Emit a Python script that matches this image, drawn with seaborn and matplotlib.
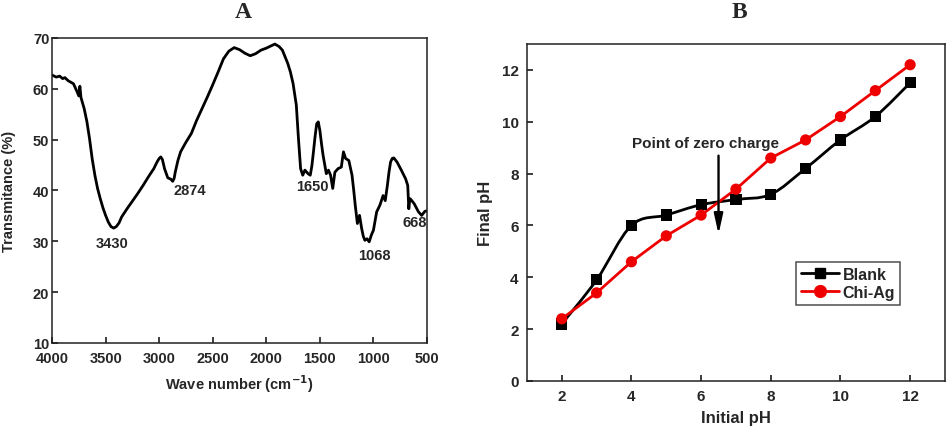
import numpy as np
import pandas as pd
import matplotlib
matplotlib.use("Agg")
import matplotlib.pyplot as plt
import seaborn as sns
from matplotlib.path import Path
from matplotlib.patches import PathPatch
from matplotlib.lines import Line2D

# FTIR spectrum (panel A)
wavenumber = [4000, 3960, 3930, 3900, 3880, 3850, 3800, 3770, 3750, 3740, 3730,
              3700, 3675, 3650, 3625, 3600, 3575, 3550, 3525, 3500, 3475, 3450,
              3425, 3400, 3375, 3350, 3300, 3250, 3200, 3150, 3100, 3050,
              3020, 3000, 2985, 2970, 2950, 2920, 2890, 2874, 2860, 2850, 2825,
              2800, 2750, 2700, 2650, 2600, 2550, 2500, 2450, 2400, 2350, 2300,
              2250, 2200, 2150, 2100, 2050, 2000, 1960, 1920, 1880, 1850, 1800,
              1775, 1750, 1720, 1700, 1680, 1660, 1640, 1610, 1590, 1575, 1560,
              1545, 1530, 1515, 1500, 1485, 1470, 1440, 1420, 1400, 1380, 1360,
              1330, 1300, 1280, 1260, 1230, 1200, 1185, 1170, 1150, 1130, 1110,
              1095, 1080, 1060, 1040, 1020, 1000, 970, 940, 910, 890, 870, 855,
              840, 825, 810, 780, 740, 700, 680, 670, 660, 650, 620, 580, 550,
              520, 500]
transmittance = [62.7, 62.3, 62.5, 62.0, 62.2, 61.6, 61.0, 59.6, 58.6, 60.5, 58.3,
                 56.1, 53.6, 50.2, 46.2, 43.0, 40.4, 38.4, 36.6, 35.1, 33.8, 32.9,
                 32.6, 32.9, 33.6, 34.8, 36.4, 37.9, 39.4, 41.0, 42.7, 44.3,
                 45.6, 46.3, 46.6, 46.1, 44.3, 42.5, 42.2, 41.8, 42.4, 43.6, 45.9,
                 47.6, 49.5, 51.2, 53.8, 56.1, 58.4, 60.8, 63.3, 65.9, 67.4, 68.1,
                 67.7, 67.0, 66.5, 66.9, 67.6, 68.0, 68.4, 68.8, 68.3, 67.6, 65.0,
                 63.3, 61.0, 56.8, 50.2, 44.3, 43.0, 44.0, 43.3, 43.0, 44.8, 47.6,
                 50.6, 53.1, 53.5, 51.8, 49.2, 46.9, 43.3, 44.0, 43.0, 40.4, 43.6,
                 44.3, 44.6, 47.6, 46.3, 45.9, 43.0, 40.2, 37.1, 33.5, 35.1, 32.5,
                 31.0, 30.2, 30.5, 29.9, 31.2, 32.2, 35.8, 37.1, 39.0, 38.0, 41.0,
                 43.6, 45.6, 46.3, 46.4, 45.6, 44.0, 42.3, 41.0, 36.4, 38.4,
                 38.2, 37.4, 35.8, 35.1, 35.9, 36.0]
peak_labels = ["3430", "2874", "1650", "1068", "668"]
peak_x = [3440, 2711, 1571, 988, 615]
peak_y = [29.7, 40.0, 40.9, 27.4, 33.8]

# pH drift (panel B)
initial_ph = [2, 3, 4, 5, 6, 7, 8, 9, 10, 11, 12]
blank_ph = [2.2, 3.9, 6.0, 6.4, 6.8, 7.0, 7.2, 8.2, 9.3, 10.2, 11.5]
chiag_ph = [2.4, 3.4, 4.6, 5.6, 6.4, 7.4, 8.6, 9.3, 10.2, 11.2, 12.2]


def smooth_path(x, y):
    # Catmull-Rom through the points, drawn as cubic Bezier segments
    p = np.column_stack([x, y]).astype(float)
    p = np.vstack([p[0], p, p[-1]])
    verts = [p[1]]
    codes = [Path.MOVETO]
    for i in range(1, len(p) - 2):
        c1 = p[i] + (p[i + 1] - p[i - 1]) / 6
        c2 = p[i + 1] - (p[i + 2] - p[i]) / 6
        verts += [c1, c2, p[i + 1]]
        codes += [Path.CURVE4] * 3
    return Path(verts, codes)


sns.set_theme(style="ticks")
plt.rcParams["font.family"] = ["Liberation Sans", "DejaVu Sans"]
plt.rcParams["font.weight"] = "bold"
plt.rcParams["axes.labelweight"] = "bold"
plt.rcParams["xtick.direction"] = "in"
plt.rcParams["ytick.direction"] = "in"
plt.rcParams["xtick.major.size"] = 4
plt.rcParams["ytick.major.size"] = 4
plt.rcParams["axes.edgecolor"] = "#222222"
plt.rcParams["axes.linewidth"] = 1.1

fig = plt.figure(figsize=(9.46, 4.31), dpi=100)
axA = fig.add_axes([0.055, 0.2019, 0.3964, 0.7077])
axB = fig.add_axes([0.557, 0.1137, 0.4419, 0.7819])

# panel A
spec = pd.DataFrame({"wn": wavenumber, "T": transmittance})
sns.lineplot(data=spec, x="wn", y="T", ax=axA, color="black", lw=2.0,
             estimator=None, sort=False)
axA.set_xlim(4000, 500)
axA.set_ylim(10, 70)
axA.set_xticks(range(4000, 499, -500))
axA.set_yticks(range(10, 71, 10))
axA.set_xlabel("Wave number (cm$^{\\mathbf{-1}}$)", fontsize=10.5, labelpad=5)
axA.set_ylabel("Transmitance (%)", fontsize=10.5, labelpad=12)
for lab, px, py in zip(peak_labels, peak_x, peak_y):
    axA.text(px, py, lab, ha="center", va="center", fontsize=10.5, fontweight="bold")
axA.tick_params(axis="y", labelsize=10.5, pad=2)
axA.tick_params(axis="x", labelsize=10.5, pad=6)
for t in axA.get_xticklabels() + axA.get_yticklabels():
    t.set_fontweight("bold")

# panel B
df = pd.DataFrame({"x": initial_ph * 2, "y": blank_ph + chiag_ph,
                   "s": ["Blank"] * 11 + ["Chi-Ag"] * 11})
axB.add_patch(PathPatch(smooth_path(initial_ph, blank_ph), fill=False,
                        edgecolor="black", lw=2.0, zorder=2))
axB.plot(initial_ph, chiag_ph, color="#ee0000", lw=2.0, zorder=3)
sns.scatterplot(data=df, x="x", y="y", hue="s", style="s",
                palette={"Blank": "black", "Chi-Ag": "#ee0000"},
                markers={"Blank": "s", "Chi-Ag": "o"}, s=65, linewidth=0,
                ax=axB, legend=False, zorder=4)
axB.set_xlim(1, 13)
axB.set_ylim(0, 13)
axB.set_xticks(range(2, 13, 2))
axB.set_yticks(range(0, 13, 2))
axB.set_xlabel("Initial pH", fontsize=12, labelpad=5)
axB.set_ylabel("Final pH", fontsize=12, labelpad=6)
axB.tick_params(labelsize=11, pad=6)
for t in axB.get_xticklabels() + axB.get_yticklabels():
    t.set_fontweight("bold")
axB.annotate("", xy=(6.5, 5.55), xytext=(6.5, 8.8),
             arrowprops=dict(arrowstyle="-|>,head_length=1.0,head_width=0.22",
                             color="black", lw=1.7))
axB.text(6.13, 9.2, "Point of zero charge", ha="center", va="center",
         fontsize=11, fontweight="bold")
handles = [Line2D([], [], color="black", marker="s", ms=7.5, lw=2.0),
           Line2D([], [], color="#ee0000", marker="o", ms=8.5, lw=2.0)]
leg = axB.legend(handles, ["Blank", "Chi-Ag"], loc="center left",
                 bbox_to_anchor=(0.643, 0.29), fontsize=11.5, frameon=True,
                 fancybox=False, edgecolor="#222222", handlelength=2.4,
                 handletextpad=0.25, borderpad=0.3, labelspacing=0.2,
                 borderaxespad=0)
leg.get_frame().set_linewidth(1.1)

fig.text(0.257, 0.972, "A", ha="center", va="center", fontsize=17,
         fontweight="bold", family=["Liberation Serif", "DejaVu Serif"])
fig.text(0.782, 0.972, "B", ha="center", va="center", fontsize=17,
         fontweight="bold", family=["Liberation Serif", "DejaVu Serif"])

fig.savefig("out.png", dpi=100)
